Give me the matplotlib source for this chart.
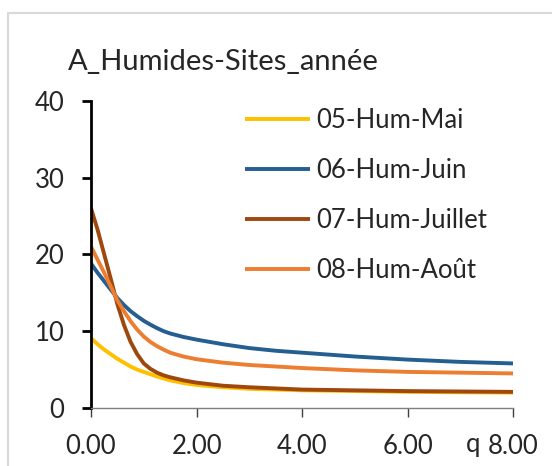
import matplotlib
matplotlib.use("Agg")
import matplotlib.pyplot as plt
from matplotlib.patches import Rectangle

plt.rcParams['font.family'] = ['Lato', 'DejaVu Sans']

title = "A_Humides-Sites_année"
x_vals = [0, 0.125, 0.25, 0.375, 0.5, 0.625, 0.75, 0.875, 1.0, 1.125, 1.25, 1.375,
          1.5, 1.75, 2.0, 2.5, 3.0, 3.5, 4.0, 5.0, 6.0, 7.0, 8.0]
series_names = ["05-Hum-Mai", "06-Hum-Juin", "07-Hum-Juillet", "08-Hum-Août"]
mai = [9.1, 8.3, 7.6, 7.0, 6.4, 5.9, 5.4, 5.0, 4.7, 4.4, 4.1, 3.85,
       3.6, 3.25, 3.0, 2.7, 2.5, 2.4, 2.3, 2.2, 2.1, 2.05, 2.0]
juin = [18.8, 17.6, 16.5, 15.4, 14.3, 13.4, 12.6, 11.95, 11.35, 10.85, 10.4, 10.0,
        9.7, 9.25, 8.9, 8.3, 7.8, 7.45, 7.2, 6.7, 6.3, 6.0, 5.8]
juillet = [26.0, 23.2, 20.0, 16.8, 13.5, 10.8, 8.6, 7.0, 5.8, 5.1, 4.6, 4.25,
           4.0, 3.6, 3.3, 2.9, 2.7, 2.55, 2.4, 2.3, 2.2, 2.15, 2.1]
aout = [21.0, 19.3, 17.6, 15.8, 14.0, 12.6, 11.3, 10.2, 9.3, 8.6, 8.05, 7.6,
        7.2, 6.7, 6.35, 5.9, 5.6, 5.4, 5.2, 4.9, 4.7, 4.6, 4.5]
colors = ["#FFC000", "#255E91", "#9E480E", "#ED7D31"]
x_ticks = [0, 2, 4, 6, 8]
x_ticklabels = ["0.00", "2.00", "4.00", "6.00", "8.00"]
y_ticks = [0, 10, 20, 30, 40]
x_axis_label = "q"

W, H = 552, 466
FS = 18.5
fig = plt.figure(figsize=(W / 100, H / 100), dpi=100)
fig.patch.set_facecolor("white")

# chart border (light gray)
fig.patches.append(Rectangle((8 / W, -0.5), 2.0, 0.5 + (1 - 13 / H), transform=fig.transFigure,
                             fill=False, edgecolor="#D9D9D9", linewidth=1.5))

ax = fig.add_axes([91 / W, 1 - 408 / H, (513.3 - 91) / W, (408 - 100.7) / H])
for name, ys, c in zip(series_names, [mai, juin, juillet, aout], colors):
    ax.plot(x_vals, ys, color=c, linewidth=2.8, label=name,
            solid_capstyle="butt", solid_joinstyle="round")

ax.set_xlim(0, 8)
ax.set_ylim(0, 40)
ax.set_xticks(x_ticks)
ax.set_xticklabels(x_ticklabels)
ax.set_yticks(y_ticks)
for s in ["top", "right"]:
    ax.spines[s].set_visible(False)
ax.spines["left"].set_color("black")
ax.spines["left"].set_linewidth(2.0)
ax.spines["bottom"].set_color("#7F7F7F")
ax.spines["bottom"].set_linewidth(1.0)
TL = 6.5
XPAD = 12
ax.tick_params(axis="y", direction="out", length=TL, width=2.0, color="black",
               labelsize=FS, pad=12.5, labelcolor="#262626")
ax.tick_params(axis="x", direction="out", length=TL, width=1.0, color="#404040",
               labelsize=FS, pad=XPAD, labelcolor="#262626")

ax.annotate(x_axis_label, xy=(7.24, 0), xycoords=("data", "axes fraction"),
            xytext=(0, -(TL + XPAD + 0.72 * FS)), textcoords="offset points",
            ha="center", va="baseline", fontsize=FS, color="#262626",
            annotation_clip=False)

fig.text(68 / W, 1 - 70 / H, title, ha="left", va="baseline", fontsize=21, color="#262626")

leg = ax.legend(loc="upper left", bbox_to_anchor=(245 / W, 1 - 107.5 / H),
                bbox_transform=fig.transFigure, frameon=False, fontsize=FS,
                handlelength=2.53, handletextpad=0.23, labelspacing=0.98,
                borderaxespad=0, borderpad=0)
for t in leg.get_texts():
    t.set_color("#262626")

fig.savefig("out.png", dpi=100)
